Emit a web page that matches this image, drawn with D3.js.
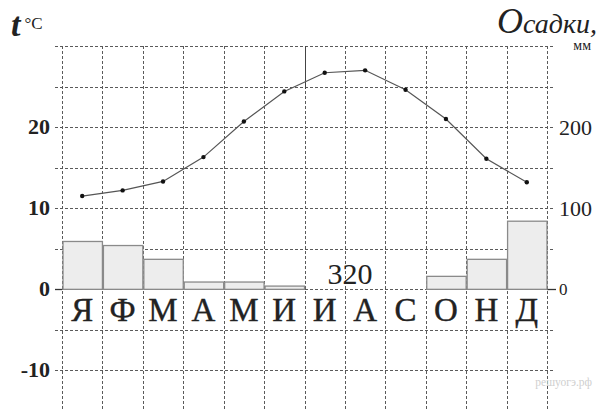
<!DOCTYPE html>
<html>
<head>
<meta charset="utf-8">
<script src="https://cdn.jsdelivr.net/npm/d3@7"></script>
<style>
  body { margin: 0; background: #fff; }
  text { font-family: "Liberation Serif", "DejaVu Serif", serif; fill: #222; }
</style>
</head>
<body>
<div id="climate-chart"></div>
<script>
const months = ['Я', 'Ф', 'М', 'А', 'М', 'И', 'И', 'А', 'С', 'О', 'Н', 'Д'];
const temperature = [11.5, 12.2, 13.3, 16.3, 20.7, 24.4, 26.7, 27.0, 24.6, 21.0, 16.1, 13.2];
const precipitation = [59, 54, 37, 9, 9, 4, 320, 0, 0, 16, 37, 84];
const tempTickLabels = [20, 10, 0, -10];
const precipTickLabels = [200, 100, 0];

const SERIF = '"Liberation Serif", "DejaVu Serif", serif';

class ClimateChart {
  constructor() {
    this.width = 602;
    this.height = 410;
    this.svg = null;
    this.x = null;
    this.yTemp = null;
    this.yPrecip = null;
  }

  // Scales: precipitation axis is temperature * 10, sharing the zero line
  createScales() {
    this.x = d3.scaleBand().domain(d3.range(months.length)).range([62, 547]).padding(0);
    this.yTemp = d3.scaleLinear().domain([-15, 30]).range([411, 46]);
    this.yPrecip = d3.scaleLinear().domain([-150, 300]).range([411, 46]);
  }

  createSVG() {
    this.svg = d3.select('#climate-chart')
      .append('svg')
      .attr('width', this.width)
      .attr('height', this.height);
  }

  // Dashed grid
  createGrid() {
    const grid = this.svg.append('g')
      .attr('stroke', '#5a5a5a')
      .attr('stroke-width', 1)
      .attr('stroke-dasharray', '3,2');

    grid.selectAll('.h-line')
      .data(this.yTemp.ticks(9))
      .enter()
      .append('line')
      .attr('class', 'h-line')
      .attr('x1', 55)
      .attr('x2', 555)
      .attr('y1', d => Math.round(this.yTemp(d)) + 0.5)
      .attr('y2', d => Math.round(this.yTemp(d)) + 0.5);

    const edges = d3.range(months.length).map(i => this.x(i)).concat([this.x.range()[1]]);
    grid.selectAll('.v-line')
      .data(edges)
      .enter()
      .append('line')
      .attr('class', 'v-line')
      .attr('x1', d => Math.round(d) + 0.5)
      .attr('x2', d => Math.round(d) + 0.5)
      .attr('y1', this.yTemp(30))
      .attr('y2', this.height);

    // solid marks on the zero line and the stray segment above July
    const y0 = Math.round(this.yTemp(0)) + 0.5;
    this.svg.append('line')
      .attr('x1', 55).attr('x2', 62).attr('y1', y0).attr('y2', y0)
      .attr('stroke', '#333').attr('stroke-width', 1.3);
    this.svg.append('line')
      .attr('x1', 547).attr('x2', 556).attr('y1', y0).attr('y2', y0)
      .attr('stroke', '#333').attr('stroke-width', 1.3);
    const xJul = Math.round(this.x(6)) + 0.5;
    this.svg.append('line')
      .attr('x1', xJul).attr('x2', xJul)
      .attr('y1', this.yTemp(30)).attr('y2', this.yTemp(24.7))
      .attr('stroke', '#444').attr('stroke-width', 1);
  }

  // Precipitation bars, values off the scale are written as text
  createBars() {
    const maxP = this.yPrecip.domain()[1];
    const inRange = precipitation.map((v, i) => ({ v, i })).filter(d => d.v > 0 && d.v <= maxP);
    const offScale = precipitation.map((v, i) => ({ v, i })).filter(d => d.v > maxP);

    this.svg.selectAll('.bar')
      .data(inRange)
      .enter()
      .append('rect')
      .attr('class', 'bar')
      .attr('x', d => this.x(d.i) + 1)
      .attr('width', this.x.bandwidth() - 1)
      .attr('y', d => this.yPrecip(d.v))
      .attr('height', d => this.yPrecip(0) - this.yPrecip(d.v))
      .attr('fill', '#ededed')
      .attr('stroke', '#8a8a8a')
      .attr('stroke-width', 1.3);

    this.svg.selectAll('.off-label')
      .data(offScale)
      .enter()
      .append('text')
      .attr('class', 'off-label')
      .attr('x', d => this.x(d.i) + this.x.bandwidth() + 5)
      .attr('y', this.yPrecip(0) - 5)
      .attr('text-anchor', 'middle')
      .attr('font-family', SERIF)
      .attr('font-size', '30px')
      .text(d => d.v);
  }

  // Temperature curve
  createLine() {
    const cx = i => this.x(i) + this.x.bandwidth() / 2;
    const line = d3.line()
      .x((d, i) => cx(i))
      .y(d => this.yTemp(d));

    this.svg.append('path')
      .datum(temperature)
      .attr('d', line)
      .attr('fill', 'none')
      .attr('stroke', '#555')
      .attr('stroke-width', 1.2);

    this.svg.selectAll('.dot')
      .data(temperature)
      .enter()
      .append('circle')
      .attr('class', 'dot')
      .attr('cx', (d, i) => cx(i))
      .attr('cy', d => this.yTemp(d))
      .attr('r', 2.2)
      .attr('fill', '#111');
  }

  createLabels() {
    // month letters
    this.svg.selectAll('.month')
      .data(months)
      .enter()
      .append('text')
      .attr('class', 'month')
      .attr('x', (d, i) => this.x(i) + this.x.bandwidth() / 2)
      .attr('y', 321)
      .attr('text-anchor', 'middle')
      .attr('font-family', SERIF)
      .attr('font-size', '33px')
      .attr('stroke', '#222')
      .attr('stroke-width', 0.4)
      .text(d => d);

    this.svg.selectAll('.t-tick')
      .data(tempTickLabels)
      .enter()
      .append('text')
      .attr('class', 't-tick')
      .attr('x', 50)
      .attr('y', d => this.yTemp(d) + 7)
      .attr('text-anchor', 'end')
      .attr('font-family', SERIF)
      .attr('font-weight', 'bold')
      .attr('font-size', '22px')
      .text(d => d);

    this.svg.selectAll('.p-tick')
      .data(precipTickLabels)
      .enter()
      .append('text')
      .attr('class', 'p-tick')
      .attr('x', 559)
      .attr('y', d => this.yPrecip(d) + (d === 0 ? 6 : 8))
      .attr('font-family', SERIF)
      .attr('font-size', d => d === 0 ? '17px' : '22px')
      .text(d => d);

    // axis titles
    const tTitle = this.svg.append('text').attr('x', 11).attr('y', 36).attr('font-family', SERIF);
    tTitle.append('tspan').attr('font-size', '34px').attr('font-style', 'italic').attr('font-weight', 'bold').text('t');
    tTitle.append('tspan').attr('font-size', '17px').attr('dx', 4).attr('dy', -7).text('°C');

    const pTitle = this.svg.append('text').attr('x', 597).attr('y', 33).attr('text-anchor', 'end')
      .attr('font-family', SERIF)
      .attr('font-style', 'italic');
    pTitle.append('tspan').attr('font-size', '36px').text('О');
    pTitle.append('tspan').attr('font-size', '28px').text('садки,');

    this.svg.append('text')
      .attr('x', 591).attr('y', 50).attr('text-anchor', 'end')
      .attr('font-family', SERIF)
      .attr('font-size', '14px')
      .text('мм');

    this.svg.append('text')
      .attr('x', 592).attr('y', 386).attr('text-anchor', 'end')
      .attr('font-family', '"DejaVu Sans", sans-serif')
      .attr('font-size', '11.5px')
      .style('fill', '#cfcfcf')
      .text('решуогэ.рф');
  }

  initialize() {
    this.createScales();
    this.createSVG();
    this.createGrid();
    this.createBars();
    this.createLine();
    this.createLabels();
  }
}

const chart = new ClimateChart();
chart.initialize();
</script>
</body>
</html>
